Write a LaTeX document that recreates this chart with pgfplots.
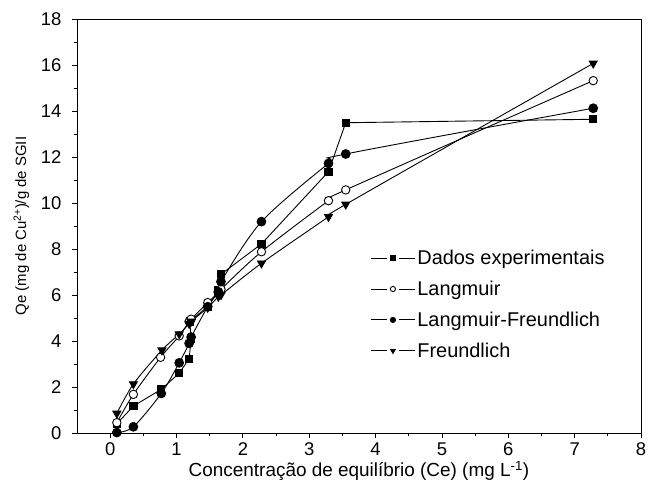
\documentclass[border=0pt]{standalone}
\usepackage{fontspec}
\setmainfont{Liberation Sans}
\usepackage{pgfplots}
\usepackage{pgfplotstable}
\pgfplotsset{compat=1.18}
\pgfplotstableread{
x y
0.10 0.40
0.35 1.17
0.77 1.90
1.04 2.60
1.19 3.23
1.22 4.10
1.20 4.85
1.47 5.50
1.63 6.20
1.67 6.90
2.28 8.22
3.29 11.36
3.55 13.49
7.28 13.64
}\dados
\pgfplotstableread{
x y
0.10 0.45
0.35 1.68
0.76 3.29
1.04 4.22
1.19 4.85
1.22 4.95
1.47 5.67
1.63 6.10
1.67 6.25
2.28 7.88
3.29 10.10
3.55 10.57
7.28 15.32
}\langmuir
\pgfplotstableread{
x y
0.10 0.02
0.35 0.27
0.77 1.72
1.04 3.05
1.19 3.90
1.22 4.17
1.47 5.49
1.63 6.14
1.67 6.58
2.28 9.19
3.29 11.72
3.55 12.13
7.28 14.12
}\lf
\pgfplotstableread{
x y
0.10 0.85
0.35 2.13
0.78 3.60
1.04 4.30
1.19 4.75
1.22 4.85
1.47 5.45
1.63 5.93
1.67 6.00
2.28 7.38
3.29 9.40
3.55 9.94
7.28 16.07
}\freund
\begin{document}
\begin{tikzpicture}
\begin{axis}[
  scale only axis, width=564bp, height=414bp,
  xmin=-0.5, xmax=8, ymin=0, ymax=18,
  xtick={0,...,8}, ytick={0,2,...,18},
  minor x tick num=1, minor y tick num=1,
  tick pos=left, tick align=outside,
  major tick length=5bp, minor tick length=3bp,
  tick style={black, line width=0.8bp},
  axis line style={line width=0.8bp},
  tick label style={font=\fontsize{18.5}{21}\selectfont},
  yticklabel style={xshift=-7bp},
  xticklabel style={yshift=-1bp},
  /pgf/number format/assume math mode=true,
  xlabel={Concentração de equilíbrio (Ce) (mg L\textsuperscript{-1})},
  ylabel={Qe (mg de Cu\textsuperscript{2+})/g de SGII},
  xlabel style={font=\fontsize{19}{22}\selectfont, yshift=1bp},
  ylabel style={font=\fontsize{15}{18}\selectfont, yshift=5bp},
  legend style={draw=none, fill=none, at={(rel axis cs:0.52,0.447)}, anchor=north west,
    font=\fontsize{20}{23}\selectfont, row sep=11bp, inner sep=0pt},
  legend cell align=left,
  legend image code/.code={
    \draw[#1] (0bp,0bp) -- (16bp,0bp);
    \draw[#1] (28bp,0bp) -- (44bp,0bp);
    \draw[#1, mark size=2.6bp] plot coordinates {(22bp,0bp)};
  },
  every axis plot/.append style={line width=0.9bp, black},
]
\addplot[mark=square*, mark size=3.6bp] table {\dados};
\addlegendentry{Dados experimentais}
\addplot[smooth, mark=*, mark options={fill=white}, mark size=4.2bp] table {\langmuir};
\addlegendentry{Langmuir}
\addplot[smooth, mark=*, mark size=4.4bp] table {\lf};
\addlegendentry{Langmuir-Freundlich}
\addplot[smooth, mark=triangle*, mark options={rotate=180}, mark size=4.6bp] table {\freund};
\addlegendentry{Freundlich}
\end{axis}
\pgfresetboundingbox
\path ([shift={(-77bp,-59bp)}]current axis.south west) rectangle ([shift={(7bp,19bp)}]current axis.north east);
\end{tikzpicture}
\end{document}
